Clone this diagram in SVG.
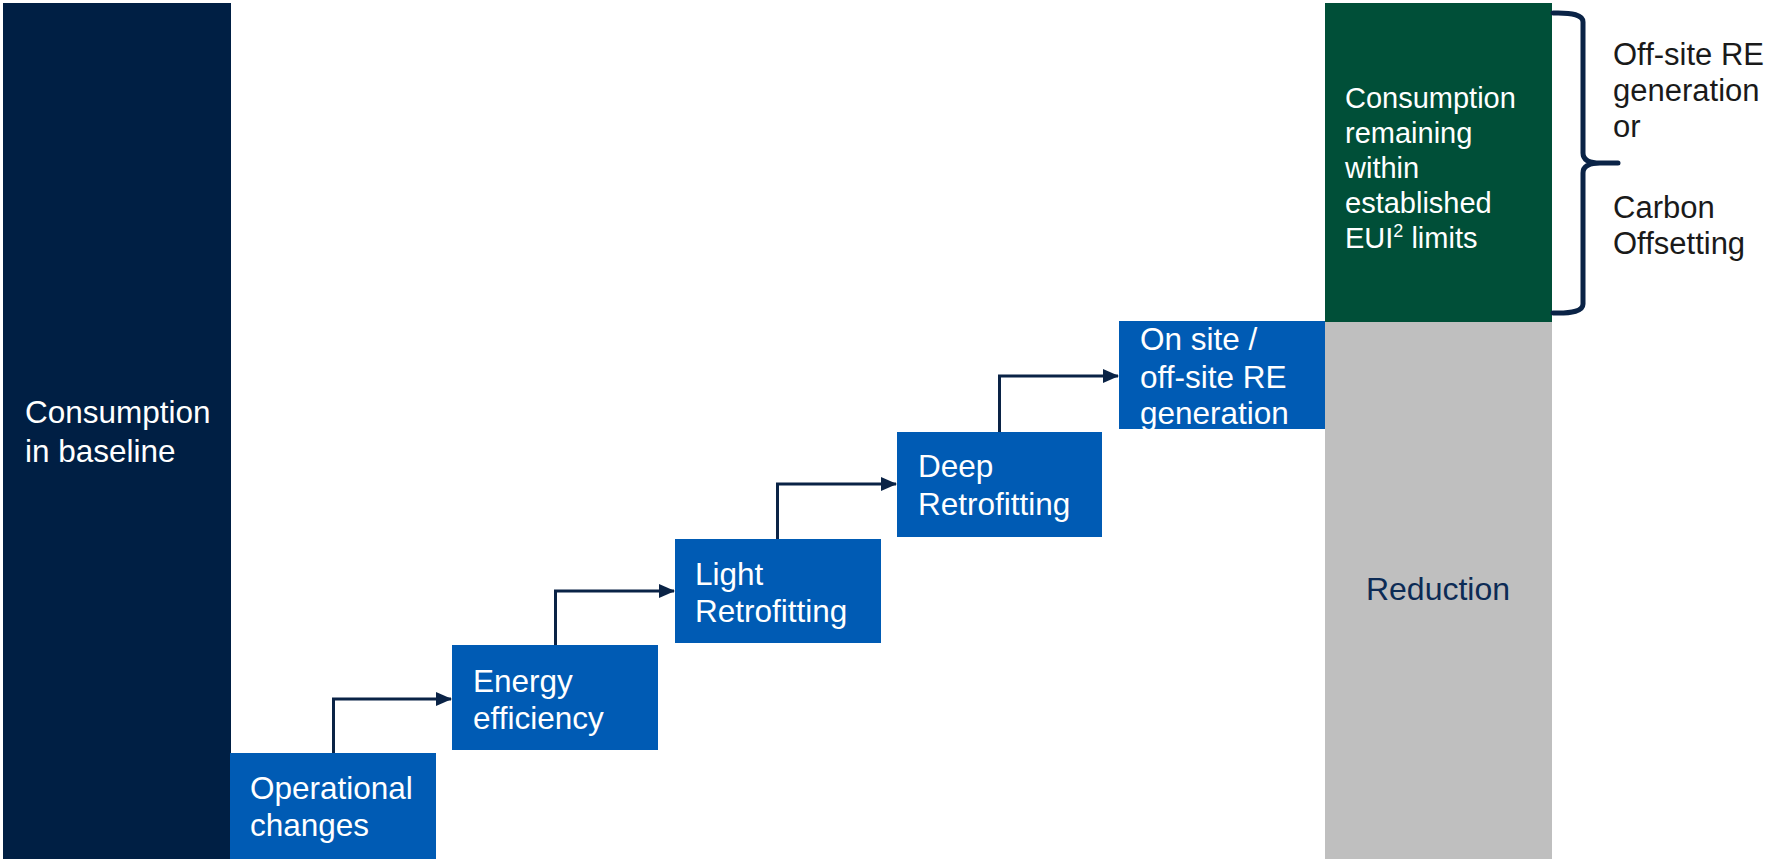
<svg xmlns="http://www.w3.org/2000/svg" width="1767" height="859" viewBox="0 0 1767 859">
<style>
.t{font-family:"Liberation Sans",Arial,sans-serif;fill:#ffffff;font-size:31.5px}
.g{font-family:"Liberation Sans",Arial,sans-serif;fill:#ffffff;font-size:29px}
.k{font-family:"Liberation Sans",Arial,sans-serif;fill:#1a1a1a;font-size:31px}
.box{fill:#005bb4}
.conn{fill:none;stroke:#0a2346;stroke-width:3}
</style>
<defs>
<marker id="ah" markerWidth="16" markerHeight="14" refX="15" refY="7" orient="auto" markerUnits="userSpaceOnUse">
<path d="M0,0 L16,7 L0,14 Z" fill="#0a2346"/>
</marker>
</defs>
<rect width="1767" height="859" fill="#ffffff"/>
<g id="baseline">
<rect x="3" y="3" width="228" height="856" fill="#001f44"/>
<text class="t" x="25" y="423">Consumption</text>
<text class="t" x="25" y="462">in baseline</text>
</g>
<g id="remaining">
<rect x="1325" y="3" width="227" height="319" fill="#004f38"/>
<text class="g" x="1345" y="108">Consumption</text>
<text class="g" x="1345" y="143">remaining</text>
<text class="g" x="1345" y="178">within</text>
<text class="g" x="1345" y="213">established</text>
<text class="g" x="1345" y="248">EUI<tspan font-size="18" dy="-11">2</tspan><tspan dy="11"> limits</tspan></text>
</g>
<g id="reduction">
<rect x="1325" y="322" width="227" height="537" fill="#bfbfbf"/>
<text class="t" x="1438" y="600" text-anchor="middle" style="fill:#0c2b55;font-size:32px">Reduction</text>
</g>
<g id="op">
<rect class="box" x="230" y="753" width="206" height="106"/>
<text class="t" x="250" y="799">Operational</text>
<text class="t" x="250" y="836">changes</text>
</g>
<g id="energy">
<rect class="box" x="452" y="645" width="206" height="105"/>
<text class="t" x="473" y="692">Energy</text>
<text class="t" x="473" y="729">efficiency</text>
</g>
<g id="light">
<rect class="box" x="675" y="539" width="206" height="104"/>
<text class="t" x="695" y="585">Light</text>
<text class="t" x="695" y="622">Retrofitting</text>
</g>
<g id="deep">
<rect class="box" x="897" y="432" width="205" height="105"/>
<text class="t" x="918" y="477">Deep</text>
<text class="t" x="918" y="515">Retrofitting</text>
</g>
<g id="onsite">
<rect class="box" x="1119" y="321" width="206" height="108"/>
<text class="t" x="1140" y="350">On site /</text>
<text class="t" x="1140" y="388">off-site RE</text>
<text class="t" x="1140" y="424">generation</text>
</g>
<g id="connectors">
<path class="conn" d="M333.5,753 V699 H451" marker-end="url(#ah)"/>
<path class="conn" d="M555.5,645 V591 H674" marker-end="url(#ah)"/>
<path class="conn" d="M777.5,539 V484 H896" marker-end="url(#ah)"/>
<path class="conn" d="M999.5,432 V376 H1118" marker-end="url(#ah)"/>
</g>
<g id="brace">
<path d="M1553,13 Q1583,12 1583,22 V153 Q1583,163 1600,163 H1618 M1600,163 Q1583,163 1583,173 V304 Q1583,314 1553,313" fill="none" stroke="#0a2346" stroke-width="5" stroke-linecap="round"/>
</g>
<g id="options">
<text class="k" x="1613" y="65">Off-site RE</text>
<text class="k" x="1613" y="101">generation</text>
<text class="k" x="1613" y="137">or</text>
<text class="k" x="1613" y="218">Carbon</text>
<text class="k" x="1613" y="254">Offsetting</text>
</g>
</svg>
